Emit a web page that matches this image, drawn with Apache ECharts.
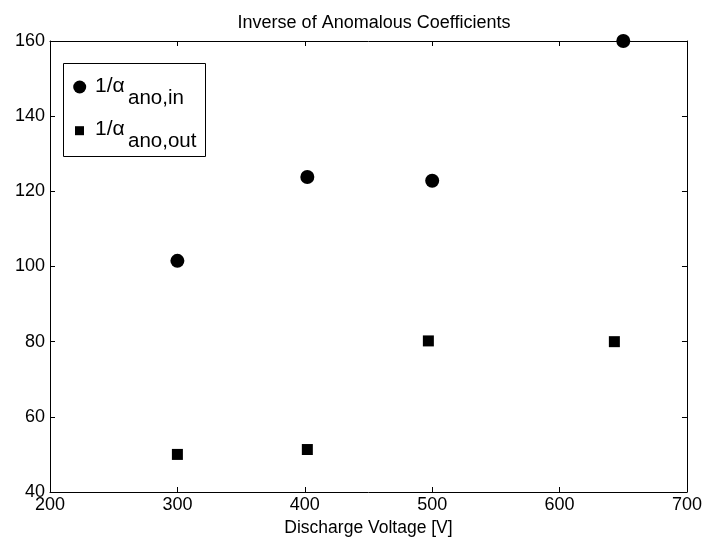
<!DOCTYPE html>
<html>
<head>
<meta charset="utf-8">
<script src="https://cdn.jsdelivr.net/npm/echarts@6/dist/echarts.min.js"></script>
<style>
  html, body { margin: 0; padding: 0; background: #fff; }
  #chart { width: 705px; height: 544px; }
</style>
</head>
<body>
<div id="chart"></div>
<script>
// Discharge voltages [V] and inverse anomalous coefficients
const voltageIn = [300, 402, 500, 650];
const invAlphaIn = [101.5, 123.8, 122.8, 160];
const voltageOut = [300, 402, 497, 643];
const invAlphaOut = [50, 51.3, 80.2, 80];

const xTicks = [200, 300, 400, 500, 600, 700];
const yTicks = [40, 60, 80, 100, 120, 140, 160];

// Legend entries: main text and subscript
const legendMain = ['1/α', '1/α'];
const legendSub = ['ano,in', 'ano,out'];

const FONT = '"Liberation Sans", Arial, sans-serif';

const chart = echarts.init(document.getElementById('chart'), null, { renderer: 'canvas' });

const pairs = (xs, ys) => xs.map((x, i) => [x, ys[i]]);

const axisCommon = {
  axisLine: { show: true, lineStyle: { color: '#000', width: 1 } },
  axisTick: { show: true, inside: true, length: 5, lineStyle: { color: '#000' } },
  splitLine: { show: false }
};

// Boxed legend with subscripted labels
const LX = 63, LY = 63, LW = 142, LH = 93, ROW = 43.7;
const legendGraphics = [
  {
    type: 'rect', z: 10,
    shape: { x: LX + 0.5, y: LY + 0.5, width: LW, height: LH },
    style: { fill: '#fff', stroke: '#000', lineWidth: 1 }
  },
  {
    type: 'circle', z: 11,
    shape: { cx: 79.7, cy: 87, r: 6.5 },
    style: { fill: '#000' }
  },
  {
    type: 'rect', z: 11,
    shape: { x: 75, y: 87 + ROW - 4.5, width: 9, height: 9 },
    style: { fill: '#000' }
  }
];
legendMain.forEach((t, i) => {
  legendGraphics.push({
    type: 'text', z: 11,
    style: { text: t, x: 95, y: 86 + i * ROW, fill: '#000',
      font: '21px ' + FONT, textAlign: 'left', textVerticalAlign: 'middle', verticalAlign: 'middle' }
  });
  legendGraphics.push({
    type: 'text', z: 11,
    style: { text: legendSub[i], x: 128, y: 98 + i * ROW, fill: '#000',
      font: '20.5px ' + FONT, textAlign: 'left', textVerticalAlign: 'middle', verticalAlign: 'middle' }
  });
});

chart.setOption({
  animation: false,
  backgroundColor: '#fff',
  title: {
    text: 'Inverse of Anomalous Coefficients',
    left: 369, textAlign: 'center', top: 9,
    textStyle: { fontFamily: FONT, fontSize: 18, fontWeight: 'normal', color: '#000' }
  },
  grid: { left: 50, right: 18, top: 41, bottom: 52, containLabel: false },
  graphic: legendGraphics,
  xAxis: [
    Object.assign({}, axisCommon, {
      type: 'value', min: 200, max: 700, interval: 100,
      name: 'Discharge Voltage [V]', nameLocation: 'middle', nameGap: 27,
      nameTextStyle: { fontFamily: FONT, fontSize: 17.5, color: '#000', verticalAlign: 'top' },
      axisLabel: { fontFamily: FONT, fontSize: 18, color: '#000', margin: 4,
        formatter: v => xTicks.includes(v) ? String(v) : '' }
    }),
    Object.assign({}, axisCommon, {
      type: 'value', min: 200, max: 700, interval: 100, position: 'top',
      axisLabel: { show: false }
    })
  ],
  yAxis: [
    Object.assign({}, axisCommon, {
      type: 'value', min: 40, max: 160, interval: 20,
      axisLabel: { fontFamily: FONT, fontSize: 18, color: '#000', margin: 5,
        formatter: v => yTicks.includes(v) ? String(v) : '' }
    }),
    Object.assign({}, axisCommon, {
      type: 'value', min: 40, max: 160, interval: 20, position: 'right',
      axisLabel: { show: false }
    })
  ],
  series: [
    {
      name: '1/α ano,in', type: 'scatter', symbol: 'circle', symbolSize: 14,
      itemStyle: { color: '#000', opacity: 1 },
      data: pairs(voltageIn, invAlphaIn),
      z: 3
    },
    {
      name: '1/α ano,out', type: 'scatter', symbol: 'rect', symbolSize: 11,
      itemStyle: { color: '#000', opacity: 1 },
      data: pairs(voltageOut, invAlphaOut),
      z: 3
    }
  ]
});
</script>
</body>
</html>
